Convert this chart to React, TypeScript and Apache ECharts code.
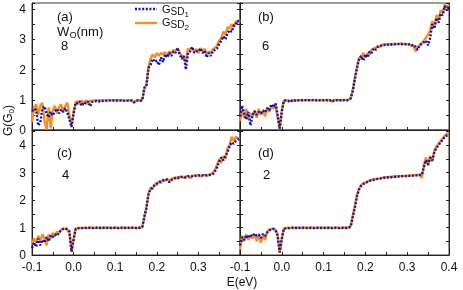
import React, { useEffect, useRef } from "react";
import * as echarts from "echarts";

// Energy grid start/step (eV); one value per sample below
const E_MIN = -0.1;
const E_STEP = 0.005;

// Panel (a) W_O = 8 nm
const A_GSD1 = [0.62,0.70,0.66,0.15,0.25,0.72,0.78,0.55,0.42,0.60,
 0.48,0.62,0.70,0.55,0.68,0.60,0.72,0.58,0.35,0.10,
 0.55,0.90,0.88,0.95,0.80,0.92,0.88,0.95,0.78,0.93,
 0.95,0.96,0.94,0.97,0.96,0.98,0.97,0.98,0.97,0.98,
 0.97,0.98,0.97,0.98,0.97,0.96,0.97,0.98,0.97,0.92,
 0.96,0.98,0.96,0.98,1.40,1.45,2.05,2.15,2.35,2.25,
 2.30,2.15,2.40,2.25,2.50,2.40,2.55,2.45,2.60,2.55,
 2.72,2.50,2.35,2.45,2.00,2.55,2.60,2.75,2.55,2.60,
 2.60,2.70,2.55,2.62,2.40,2.55,2.45,2.62,2.65,2.70,
 2.85,2.95,3.10,3.00,3.20,3.30,3.25,3.45,3.50,3.62,
 3.55];
const A_GSD2 = [0.25,0.75,0.85,0.50,0.80,0.90,0.30,0.02,0.75,0.05,
 0.65,0.80,0.55,0.75,0.85,0.60,0.80,0.90,0.45,0.15,
 0.60,0.92,0.95,0.85,0.97,0.90,0.98,0.85,0.96,0.97,
 0.98,0.97,0.99,0.98,0.99,0.98,0.97,0.99,0.98,0.99,
 0.98,0.99,0.98,0.99,0.98,0.97,0.98,0.99,0.98,0.90,
 0.97,0.99,0.97,1.00,1.35,1.50,2.10,2.35,2.50,2.40,
 2.55,2.45,2.55,2.50,2.58,2.45,2.60,2.55,2.65,2.60,
 2.70,2.55,2.45,2.40,2.25,2.70,2.65,2.72,2.60,2.68,
 2.55,2.70,2.62,2.68,2.50,2.60,2.55,2.68,2.72,2.80,
 2.95,3.05,3.25,3.15,3.40,3.35,3.50,3.40,3.60,3.55,
 3.65];

// Panel (b) W_O = 6 nm
const B_GSD1 = [0.45,0.80,0.55,0.35,0.60,0.15,0.50,0.62,0.50,0.60,
 0.55,0.65,0.58,0.72,0.65,0.85,0.75,0.88,0.50,0.05,
 0.60,0.97,0.98,0.96,0.92,0.98,0.97,0.99,0.98,0.99,
 0.98,0.99,0.98,0.99,0.98,0.99,0.98,0.99,0.98,0.99,
 0.98,0.99,0.98,0.99,0.94,0.98,0.99,0.98,0.99,0.98,
 0.99,0.98,1.00,1.05,1.30,1.70,2.05,2.35,2.45,2.30,
 2.50,2.40,2.60,2.55,2.70,2.65,2.75,2.78,2.80,2.82,
 2.80,2.83,2.82,2.84,2.83,2.85,2.84,2.83,2.85,2.84,
 2.82,2.83,2.80,2.82,2.75,2.65,2.80,2.85,2.90,2.95,
 2.80,3.05,3.50,3.35,3.70,3.55,3.85,3.80,4.10,3.95,
 4.10];
const B_GSD2 = [0.30,0.65,0.40,0.70,0.35,0.55,0.45,0.65,0.40,0.70,
 0.50,0.62,0.45,0.75,0.60,0.80,0.70,0.85,0.40,0.05,
 0.65,0.98,0.97,0.99,0.95,0.99,0.98,0.99,0.98,0.99,
 0.99,0.98,0.99,0.99,0.98,0.99,0.99,0.98,0.99,0.99,
 0.98,0.99,0.99,0.98,0.93,0.99,0.98,0.99,0.99,0.98,
 0.99,0.99,1.00,1.05,1.35,1.75,2.10,2.40,2.35,2.55,
 2.40,2.55,2.50,2.65,2.70,2.72,2.78,2.75,2.82,2.80,
 2.84,2.82,2.85,2.83,2.86,2.84,2.85,2.86,2.84,2.85,
 2.83,2.84,2.78,2.80,2.60,2.75,2.82,2.88,2.95,3.05,
 3.15,3.30,3.60,3.40,3.80,3.65,3.95,3.90,4.15,4.05,
 4.15];

// Panel (c) W_O = 4 nm
const C_GSD1 = [0.25,0.45,0.30,0.60,0.35,0.55,0.45,0.65,0.50,0.70,
 0.65,0.75,0.70,0.82,0.90,0.95,0.96,0.93,0.85,0.12,
 0.55,0.95,0.97,0.98,0.98,0.99,0.98,0.99,0.99,0.98,
 0.99,0.99,0.98,0.99,0.99,0.98,0.99,0.99,0.98,0.99,
 0.99,0.98,0.99,0.99,0.98,0.99,0.99,0.98,0.99,0.99,
 0.98,0.99,0.99,1.02,1.40,1.70,2.20,2.40,2.45,2.55,
 2.60,2.65,2.68,2.72,2.75,2.74,2.65,2.72,2.78,2.80,
 2.82,2.80,2.84,2.85,2.82,2.86,2.87,2.86,2.88,2.89,
 2.90,2.89,2.90,2.91,2.90,2.91,2.92,2.95,3.05,3.20,
 3.40,3.55,3.45,3.60,3.75,3.95,4.10,4.05,4.15,4.20,
 4.25];
const C_GSD2 = [0.40,0.60,0.45,0.70,0.50,0.75,0.60,0.35,0.75,0.60,
 0.80,0.70,0.85,0.80,0.92,0.95,0.96,0.93,0.80,0.15,
 0.60,0.96,0.98,0.99,0.98,0.99,0.99,0.98,0.99,0.99,
 0.98,0.99,0.99,0.98,0.99,0.99,0.98,0.99,0.99,0.98,
 0.99,0.99,0.98,0.99,0.99,0.98,0.99,0.99,0.98,0.99,
 0.99,0.98,0.99,1.02,1.35,1.75,2.25,2.45,2.40,2.58,
 2.55,2.68,2.62,2.74,2.70,2.78,2.68,2.76,2.80,2.83,
 2.78,2.84,2.86,2.80,2.86,2.88,2.80,2.88,2.90,2.88,
 2.92,2.85,2.90,2.92,2.88,2.91,2.94,3.00,3.10,3.30,
 3.50,3.35,3.60,3.50,3.90,4.00,4.30,4.15,4.30,4.25,
 4.20];

// Panel (d) W_O = 2 nm
const D_GSD1 = [0.35,0.65,0.55,0.72,0.62,0.75,0.68,0.78,0.70,0.74,
 0.62,0.76,0.70,0.82,0.90,0.93,0.95,0.90,0.70,0.10,
 0.60,0.96,0.97,0.98,0.98,0.99,0.98,0.99,0.99,0.98,
 0.99,0.99,0.98,0.99,0.99,0.98,0.99,0.99,0.98,0.99,
 0.99,0.98,0.99,0.99,0.98,0.99,0.99,0.98,0.99,0.99,
 0.98,0.99,0.99,1.05,1.40,1.75,2.15,2.40,2.52,2.58,
 2.63,2.66,2.70,2.72,2.74,2.76,2.77,2.78,2.80,2.81,
 2.82,2.83,2.83,2.84,2.85,2.85,2.86,2.86,2.87,2.87,
 2.88,2.88,2.89,2.89,2.90,2.90,2.91,2.92,3.20,3.45,
 3.30,3.55,3.45,3.75,3.90,4.00,4.10,4.20,4.30,4.35,
 4.40];
const D_GSD2 = [0.20,0.70,0.50,0.75,0.55,0.70,0.60,0.75,0.50,0.72,
 0.45,0.70,0.55,0.85,0.92,0.95,0.96,0.92,0.75,0.08,
 0.60,0.97,0.98,0.99,0.98,0.99,0.99,0.98,0.99,0.99,
 0.98,0.99,0.99,0.98,0.99,0.99,0.98,0.99,0.99,0.98,
 0.99,0.99,0.98,0.99,0.99,0.98,0.99,0.99,0.98,0.99,
 0.99,0.98,0.99,1.05,1.45,1.80,2.20,2.42,2.55,2.60,
 2.64,2.68,2.71,2.73,2.75,2.77,2.78,2.79,2.81,2.82,
 2.83,2.84,2.84,2.85,2.86,2.86,2.87,2.87,2.88,2.88,
 2.89,2.89,2.90,2.90,2.91,2.91,2.92,2.80,3.30,3.55,
 3.25,3.60,3.40,3.80,3.95,4.05,4.15,4.25,4.35,4.40,
 4.45];

const PANEL_TAGS = ["(a)", "(b)", "(c)", "(d)"];
const PANEL_WIDTHS = ["8", "6", "4", "2"];
const X_LABELS_C = [-0.1, 0, 0.1, 0.2, 0.3];
const X_LABELS_D = [-0.1, 0, 0.1, 0.2, 0.3, 0.4];
const Y_LABELS = [0, 1, 2, 3, 4];
const Y_MAX_TOP = 4.2;
const Y_MAX_BOTTOM = 4.55;

const BLUE = "#14149e";
const ORANGE = "#f68d2e";
const FONT = "'Liberation Sans', Arial, sans-serif";

const PANELS = [
  { s1: A_GSD1, s2: A_GSD2 },
  { s1: B_GSD1, s2: B_GSD2 },
  { s1: C_GSD1, s2: C_GSD2 },
  { s1: D_GSD1, s2: D_GSD2 },
];

const toPairs = (vals: number[]) =>
  vals.map((v, i) => [+(E_MIN + E_STEP * i).toFixed(3), v]);

export default function App() {
  const ref = useRef<HTMLDivElement>(null);
  useEffect(() => {
    if (!ref.current) return;
    const chart = echarts.init(ref.current, null, { renderer: "svg" });
    const grids = [
      { left: 32, top: 3, width: 208, height: 127 },
      { left: 240, top: 3, width: 209, height: 127 },
      { left: 32, top: 130, width: 208, height: 125 },
      { left: 240, top: 130, width: 209, height: 125 },
    ].map((g) => ({ ...g, show: true, borderColor: "#3a3a3a", borderWidth: 1, backgroundColor: "transparent" }));

    const axisLine = { show: true, onZero: false, lineStyle: { color: "#222", width: 1 } };
    const tick = { show: true, inside: true, length: 3, lineStyle: { color: "#222", width: 1 } };
    const labelStyle = { color: "#111", fontSize: 12, fontFamily: FONT };

    const xAxis = grids.map((_, k) => ({
      type: "value",
      gridIndex: k,
      position: "bottom",
      min: -0.1,
      max: 0.4,
      interval: 0.05,
      axisLine,
      axisTick: tick,
      splitLine: { show: false },
      axisLabel:
        k >= 2
          ? {
              show: true,
              ...labelStyle,
              margin: 6,
              customValues: k === 2 ? X_LABELS_C : X_LABELS_D,
              formatter: (v: number) => v.toFixed(1),
            }
          : { show: false },
    }));

    const yAxis: any[] = [];
    grids.forEach((_, k) => {
      const max = k < 2 ? Y_MAX_TOP : Y_MAX_BOTTOM;
      yAxis.push({
        type: "value",
        gridIndex: k,
        position: "left",
        min: 0,
        max,
        interval: 0.5,
        axisLine,
        axisTick: tick,
        splitLine: { show: false },
        axisLabel:
          k % 2 === 0
            ? { show: true, ...labelStyle, margin: 6, customValues: Y_LABELS, formatter: (v: number) => String(v) }
            : { show: false },
      });
      yAxis.push({
        type: "value",
        gridIndex: k,
        position: "right",
        min: 0,
        max,
        interval: 0.5,
        axisLine,
        axisTick: tick,
        splitLine: { show: false },
        axisLabel: { show: false },
      });
    });

    const series: any[] = [];
    PANELS.forEach((p, k) => {
      series.push({
        type: "line",
        name: "GSD2",
        xAxisIndex: k,
        yAxisIndex: 2 * k,
        data: toPairs(p.s2),
        symbol: "none",
        lineStyle: { color: ORANGE, width: 2.4 },
        silent: true,
      });
      series.push({
        type: "line",
        name: "GSD1",
        xAxisIndex: k,
        yAxisIndex: 2 * k,
        data: toPairs(p.s1),
        symbol: "none",
        lineStyle: { color: BLUE, width: 2.4, type: [2, 1.6] },
        silent: true,
      });
    });

    const txt = (text: string, x: number, y: number, size: number, extra: any = {}) => ({
      type: "text",
      x,
      y,
      silent: true,
      style: { text, fontSize: size, fontFamily: FONT, fill: "#111", verticalAlign: "middle", align: "left", ...extra },
    });

    const tagPos = [
      [57, 16, 61, 45],
      [258, 16, 262, 45],
      [57, 152, 62, 174],
      [258, 152, 263, 174],
    ];
    const graphic: any[] = [];
    tagPos.forEach((p, k) => {
      graphic.push(txt(PANEL_TAGS[k], p[0], p[1], 13));
      graphic.push(txt(PANEL_WIDTHS[k], p[2], p[3], 13));
    });
    // W_O(nm)
    graphic.push(txt("W", 57, 31, 13));
    graphic.push(txt("O", 69.5, 34.5, 9));
    graphic.push(txt("(nm)", 76.5, 31, 13));

    // legend
    graphic.push({
      type: "line",
      silent: true,
      shape: { x1: 135, y1: 9, x2: 157, y2: 9 },
      style: { stroke: BLUE, lineWidth: 2.4, lineDash: [2, 1.6] },
    });
    graphic.push({
      type: "line",
      silent: true,
      shape: { x1: 135, y1: 23, x2: 157, y2: 23 },
      style: { stroke: ORANGE, lineWidth: 2.4 },
    });
    graphic.push(txt("G", 162, 9, 11));
    graphic.push(txt("SD", 170.5, 11.5, 10));
    graphic.push(txt("1", 184.5, 14.5, 8));
    graphic.push(txt("G", 162, 21.5, 11));
    graphic.push(txt("SD", 170.5, 24, 10));
    graphic.push(txt("2", 184.5, 27, 8));

    // axis titles
    graphic.push(txt("E(eV)", 242, 282, 12, { align: "center" }));
    graphic.push({
      type: "group",
      x: 8,
      y: 120,
      rotation: Math.PI / 2,
      children: [
        txt("G(G", -16, 0, 12),
        txt("0", 6.5, 3, 8),
        txt(")", 11, 0, 12),
      ],
    });

    chart.setOption({
      animation: false,
      grid: grids,
      xAxis,
      yAxis,
      series,
      graphic,
    });
    return () => chart.dispose();
  }, []);
  return <div ref={ref} style={{ position: "fixed", left: 0, top: 0, width: 463, height: 290 }} />;
}
